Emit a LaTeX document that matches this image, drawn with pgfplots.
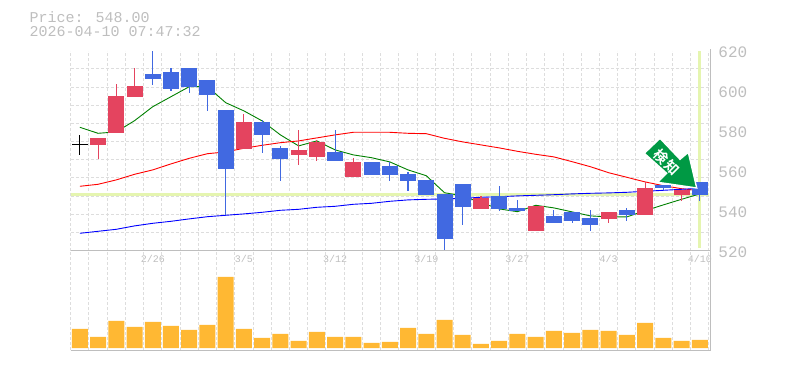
\documentclass[border=0pt]{standalone}
\usepackage{pgfplots}
\usepackage{pgfplotstable}
\usepackage{fontspec}
\pgfplotsset{compat=1.18}
\setmainfont{Liberation Mono}
\newfontfamily\cjk{Noto Sans CJK JP}[BoldFont={Noto Sans CJK JP Bold}]
\definecolor{upc}{HTML}{E4445F}
\definecolor{dnc}{HTML}{4169E1}
\definecolor{volc}{HTML}{FFB833}
\definecolor{lvl}{HTML}{E5F5B0}
\definecolor{txt}{HTML}{BEBEBE}
\definecolor{gridc}{HTML}{DDDDDD}
\definecolor{arrowc}{HTML}{009944}
\pgfplotstableread{
x lo hi low high
1 573 576.5 566 576.5
2 579 597.5 579 603.5
3 597 602.5 597 611.5
9 571 584.5 571 588.5
12 568 570.5 563 580.5
13 567 574.5 565 575.5
15 557 564.5 557 566.5
22 541 546.5 541 547.5
25 530 542.5 530 542.5
29 536 539.5 534 539.5
31 538 551.5 538 554.5
33 548 550.5 545 550.5
}\upt
\pgfplotstableread{
x lo hi low high
4 606 608.5 603 620
5 601 609.5 600 611.5
6 602 611.5 599 611.5
7 598 605.5 590 605.5
8 561 590.5 538 590.5
10 578 584.5 569 585.5
11 566 571.5 555 572.5
14 565 569.5 565 580.5
16 558 564.5 558 564.5
17 558 562.5 555 564.5
18 555 558.5 550 559.5
19 548 555.5 548 555.5
20 526 548.5 520 548.5
21 542 553.5 533 553.5
23 541 547.5 540 552.5
24 540 541.5 540 545.5
26 534 537.5 534 540.5
27 535 539.5 534 539.5
28 533 536.5 530 540.5
30 538 540.5 535 541.5
32 551.5 553 550.5 553
34 548 554.5 545 554.5
}\dnt
\pgfplotstableread{
x ma5 ma25 ma75
0 581.7 552.2 528.7
1 578.7 553.2 529.7
2 579.4 555.4 530.7
3 585 558.2 532.4
4 592 560.4 533.7
5 597 563.4 534.7
6 602 566.2 535.9
7 602 568.5 537
8 594 569.4 537.7
9 589.9 571.2 538.4
10 584.9 572.7 539.2
11 577.9 574 540.2
12 572.4 574.9 540.7
13 574.9 576.4 541.7
14 570.4 577.9 542.2
15 567.9 579.2 543.2
16 566.5 579.2 543.7
17 564.4 579.2 544.7
18 560.4 578.7 545.4
19 557.5 578.5 545.7
20 549 576.2 545.9
21 547.4 574.4 546.2
22 544 572.9 546.7
23 540.9 571.4 547
24 539.5 569.7 547.4
25 542.7 568.2 547.7
26 541.4 566.9 548
27 539.4 564.5 548.4
28 537.4 562 548.7
29 536.9 559 548.9
30 536.9 556.7 549.2
31 540 554.4 549.7
32 542.9 552.5 550.2
33 545.7 551 550.7
34 548.4 550 551.2
}\mat
\pgfplotstableread{
x v
0 19
1 11
2 27
3 21
4 26
5 22
6 18
7 23
8 71
9 19
10 10
11 14
12 7
13 16
14 11
15 11
16 5
17 6
18 20
19 14
20 28
21 13
22 4
23 7
24 14
25 11
26 17
27 15
28 18
29 17
30 13
31 25
32 10
33 7
34 8
}\volt
\pgfplotsset{common/.style={
  scale only axis, width=638.2pt, xmin=-0.5, xmax=34.5,
  axis line style={draw=none}, tick style={draw=none}, major tick length=0pt,
  grid style={gridc, line width=1pt, dash pattern=on 3pt off 2pt},
  extra x ticks={-0.5,0.5,...,34.5}, extra x tick labels={},
  extra x tick style={xmajorgrids=true},
  tick label style={text=txt},
}}
\begin{document}
\begin{tikzpicture}[x=1pt,y=1pt]
\path (0,0) rectangle (785,370);
\node[anchor=west,text=txt,font=\fontsize{15}{15}\selectfont,inner sep=0pt] at (29.5,353) {Price: 548.00};
\node[anchor=west,text=txt,font=\fontsize{15}{15}\selectfont,inner sep=0pt] at (29.5,338) {2026-04-10 07:47:32};
\begin{axis}[common, at={(70.7pt,119.3pt)}, anchor=south west, height=200pt,
  ymin=520, ymax=620,
  ytick={520,540,560,580,600,620},
  yticklabel pos=right,
  y tick label style={anchor=west, font=\fontsize{16}{16}\selectfont, xshift=6pt, yshift=-1.4pt},
  /pgf/number format/assume math mode=true,
  xtick={4,9,14,19,24,29,34},
  xticklabels={2/26,3/5,3/12,3/19,3/27,4/3,4/10},
  x tick label style={font=\fontsize{10}{10}\selectfont, yshift=-1pt},
  extra y ticks={529.0909,538.1818,547.2727,556.3636,565.4545,574.5454,583.6363,592.7272,601.8181,610.909},
  extra y tick labels={},
  extra y tick style={ymajorgrids=true},
  ]
\addplot[lvl,line width=3pt,forget plot] coordinates {(-0.5,548) (34.5,548)};
\addplot[lvl,line width=3pt,forget plot] coordinates {(34,521.3) (34,620)};
\addplot[green!50!black,line width=0.9pt] table[x=x,y=ma5] {\mat};
\addplot[red,line width=0.9pt] table[x=x,y=ma25] {\mat};
\addplot[blue,line width=0.9pt] table[x=x,y=ma75] {\mat};
% wicks and bodies
\addplot[draw=none,mark=none,forget plot,error bars/.cd,y dir=plus,y explicit,error mark=none,
  error bar style={upc,line width=1.1pt}]
  table[x=x,y=low,y error expr=\thisrow{high}-\thisrow{low}] {\upt};
\addplot[draw=none,mark=none,forget plot,error bars/.cd,y dir=plus,y explicit,error mark=none,
  error bar style={upc,line width=16pt}]
  table[x=x,y=lo,y error expr=\thisrow{hi}-\thisrow{lo}] {\upt};
\addplot[draw=none,mark=none,forget plot,error bars/.cd,y dir=plus,y explicit,error mark=none,
  error bar style={dnc,line width=1.1pt}]
  table[x=x,y=low,y error expr=\thisrow{high}-\thisrow{low}] {\dnt};
\addplot[draw=none,mark=none,forget plot,error bars/.cd,y dir=plus,y explicit,error mark=none,
  error bar style={dnc,line width=16pt}]
  table[x=x,y=lo,y error expr=\thisrow{hi}-\thisrow{lo}] {\dnt};
% first session: cross
\addplot[draw=none,mark=none,forget plot,error bars/.cd,y dir=both,x dir=both,y explicit,x explicit,error mark=none,
  error bar style={black,line width=1.1pt}]
  coordinates {(0,573) +- (0.44,5)};
\end{axis}
\begin{axis}[common, at={(70.7pt,20pt)}, anchor=south west, height=99.3pt,
  ymin=-2, ymax=97.3, ytick=\empty, xtick=\empty]
\addplot[ybar,bar width=16pt,fill=volc,draw=none] table[x=x,y=v] {\volt};
\end{axis}
% frame
\draw[txt,line width=1pt] (70.7,119.6) -- (710,119.6);
\draw[txt,line width=1pt] (70.7,20) -- (710,20);
\draw[txt,line width=1pt] (710,320.5) -- (710,19.5);
% signal arrow
\fill[arrowc,draw=white,line width=1.4pt,line join=miter]
  (644.3,216.7) -- (660,231.7) -- (680,210.7) -- (688.3,217.7) -- (696.7,182) -- (657.7,187.7) -- (666.7,196.7) -- cycle;
\node[rotate=-45,text=white,font=\cjk\bfseries\fontsize{14}{14}\selectfont,inner sep=0pt] at (666.7,207.5) {検\kern2pt 知};
\end{tikzpicture}
\end{document}
